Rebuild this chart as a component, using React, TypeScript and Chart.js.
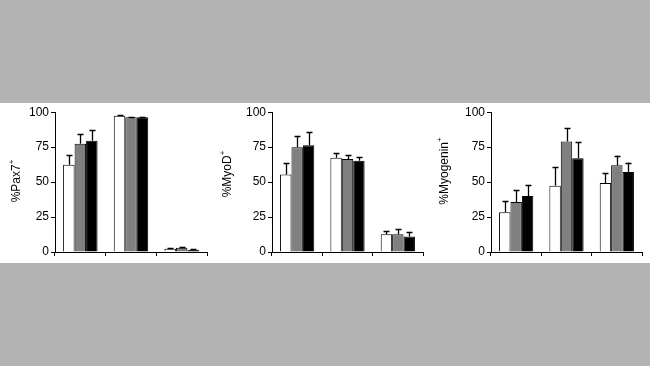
import React, { useEffect, useRef } from "react";
import { Chart, registerables } from "chart.js";

Chart.register(...registerables);

const categories = ["", "", ""];
const seriesNames = ["Group A", "Group B", "Group C"];
const yTicks = [0, 25, 50, 75, 100];

// Pax7
const pax7White = [62.4, 97.4, 2.4];
const pax7Gray = [77.4, 96.3, 3.0];
const pax7Black = [79.6, 96.3, 1.6];
const pax7WhiteErr = [6.8, 0.6, 0.4];
const pax7GrayErr = [7.2, 0.5, 0.5];
const pax7BlackErr = [7.5, 0.5, 0.4];

// MyoD
const myodWhite = [55.5, 67.5, 12.7];
const myodGray = [75.0, 66.6, 12.7];
const myodBlack = [76.3, 65.2, 11.0];
const myodWhiteErr = [8.3, 3.5, 2.3];
const myodGrayErr = [8.2, 2.6, 3.5];
const myodBlackErr = [9.2, 3.0, 3.3];

// Myogenin
const myogWhite = [28.5, 47.3, 49.4];
const myogGray = [35.8, 79.0, 62.0];
const myogBlack = [40.0, 67.0, 57.2];
const myogWhiteErr = [8.0, 13.7, 6.8];
const myogGrayErr = [8.4, 9.7, 7.0];
const myogBlackErr = [8.0, 11.8, 6.8];

const barColors = ["#ffffff", "#808080", "#000000"];
const FONT = "'Liberation Sans', Arial, sans-serif";

type Panel = {
  title: string;
  values: number[][];
  errors: number[][];
  left: number;
  width: number;
  yWidth: number;
  padRight: number;
  titleX: number;
  titleY: number;
};

const panels: Panel[] = [
  {
    title: "%Pax7",
    values: [pax7White, pax7Gray, pax7Black],
    errors: [pax7WhiteErr, pax7GrayErr, pax7BlackErr],
    left: 0,
    width: 215,
    yWidth: 55,
    padRight: 8,
    titleX: 17,
    titleY: 78,
  },
  {
    title: "%MyoD",
    values: [myodWhite, myodGray, myodBlack],
    errors: [myodWhiteErr, myodGrayErr, myodBlackErr],
    left: 215,
    width: 215,
    yWidth: 57,
    padRight: 7,
    titleX: 13,
    titleY: 71,
  },
  {
    title: "%Myogenin",
    values: [myogWhite, myogGray, myogBlack],
    errors: [myogWhiteErr, myogGrayErr, myogBlackErr],
    left: 432,
    width: 218,
    yWidth: 59,
    padRight: 8,
    titleX: 13,
    titleY: 68,
  },
];

const errorBarPlugin = {
  id: "errorBars",
  afterDatasetsDraw(chart: any) {
    const ctx = chart.ctx;
    const yScale = chart.scales.y;
    const errs: number[][] = chart.options.plugins.errorBars.errors;
    ctx.save();
    ctx.strokeStyle = "#000";
    ctx.lineWidth = 1.3;
    chart.data.datasets.forEach((ds: any, di: number) => {
      const meta = chart.getDatasetMeta(di);
      meta.data.forEach((el: any, i: number) => {
        const v = ds.data[i];
        const e = errs[di][i];
        const yTop = yScale.getPixelForValue(v + e);
        const x = Math.round(el.x) + 0.5;
        ctx.beginPath();
        ctx.moveTo(x, el.y);
        ctx.lineTo(x, yTop);
        ctx.moveTo(x - 3, Math.round(yTop) + 0.5);
        ctx.lineTo(x + 3, Math.round(yTop) + 0.5);
        ctx.stroke();
      });
    });
    ctx.restore();
  },
};

const yTitlePlugin = {
  id: "yTitle",
  afterDraw(chart: any) {
    const o = chart.options.plugins.yTitle;
    const ctx = chart.ctx;
    ctx.save();
    ctx.fillStyle = "#000";
    ctx.translate(o.x, o.y);
    ctx.rotate(-Math.PI / 2);
    ctx.font = `12px ${FONT}`;
    const mainW = ctx.measureText(o.text).width;
    ctx.font = `8px ${FONT}`;
    const supW = ctx.measureText("+").width;
    const total = mainW + supW;
    ctx.textBaseline = "middle";
    ctx.textAlign = "left";
    ctx.font = `12px ${FONT}`;
    ctx.fillText(o.text, -total / 2, 0);
    ctx.font = `8px ${FONT}`;
    ctx.fillText("+", -total / 2 + mainW, -5);
    ctx.restore();
  },
};

function PanelChart({ panel }: { panel: Panel }) {
  const ref = useRef<HTMLCanvasElement | null>(null);
  useEffect(() => {
    if (!ref.current) return;
    const chart = new Chart(ref.current, {
      type: "bar",
      data: {
        labels: categories,
        datasets: panel.values.map((vals, i) => ({
          label: seriesNames[i],
          data: vals,
          backgroundColor: barColors[i],
          borderColor: "#000",
          borderWidth: 1,
          categoryPercentage: 0.68,
          barPercentage: 1.0,
        })),
      },
      options: {
        animation: false,
        responsive: false,
        maintainAspectRatio: false,
        layout: { padding: { left: 0, right: panel.padRight, top: 8, bottom: 0 } },
        plugins: {
          legend: { display: false },
          tooltip: { enabled: false },
          // @ts-ignore
          errorBars: { errors: panel.errors },
          // @ts-ignore
          yTitle: { text: panel.title, x: panel.titleX, y: panel.titleY },
        },
        scales: {
          x: {
            type: "category",
            offset: true,
            grid: {
              offset: true,
              drawOnChartArea: false,
              drawTicks: true,
              tickLength: 4,
              color: "#000",
            },
            border: { display: true, color: "#000", width: 1 },
            ticks: { display: false },
            afterFit: (s: any) => {
              s.height = 11;
            },
          },
          y: {
            min: 0,
            max: 100,
            afterBuildTicks: (s: any) => {
              s.ticks = yTicks.map((v) => ({ value: v }));
            },
            grid: {
              drawOnChartArea: false,
              drawTicks: true,
              tickLength: 4,
              color: "#000",
            },
            border: { display: true, color: "#000", width: 1 },
            ticks: {
              color: "#000",
              padding: 2,
              font: { family: FONT, size: 12 },
            },
            title: { display: false },
            afterFit: (s: any) => {
              s.width = panel.yWidth;
            },
          },
        },
      },
      plugins: [errorBarPlugin, yTitlePlugin],
    } as any);
    return () => chart.destroy();
  }, [panel]);
  return (
    <canvas
      ref={ref}
      width={panel.width}
      height={160}
      style={{ position: "absolute", left: panel.left, top: 0, width: panel.width, height: 160 }}
    />
  );
}

export default function App() {
  return (
    <div
      style={{
        position: "fixed",
        left: 0,
        top: 0,
        width: 650,
        height: 366,
        background: "#b3b3b3",
        overflow: "hidden",
      }}
    >
      <div
        style={{
          position: "absolute",
          left: 0,
          top: 103,
          width: 650,
          height: 160,
          background: "#ffffff",
        }}
      >
        {panels.map((p, i) => (
          <PanelChart key={i} panel={p} />
        ))}
      </div>
    </div>
  );
}
